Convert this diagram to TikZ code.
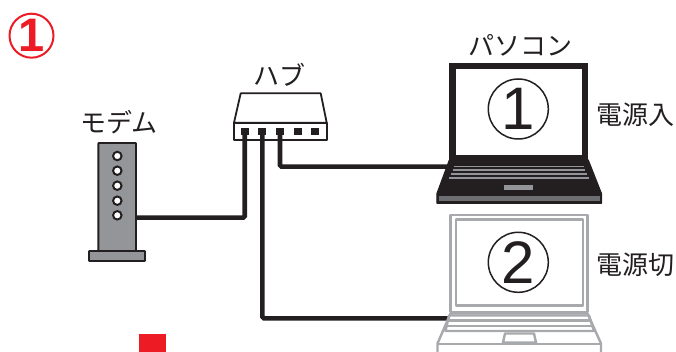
\documentclass[tikz,border=0pt]{standalone}
\usepackage{fontspec}
\setmainfont{Noto Sans CJK JP}
\newfontfamily\digitfont{Liberation Sans}
\definecolor{ink}{HTML}{231F20}
\definecolor{mid}{HTML}{939598}
\definecolor{pale}{HTML}{A7A9AC}
\definecolor{slabgray}{HTML}{6D6E71}
\definecolor{mark}{HTML}{ED1C24}
\begin{document}
\begin{tikzpicture}[
    x=1pt, y=-1pt,
    label/.style={inner sep=0pt, font=\fontsize{26}{26}\selectfont, text=ink},
    cable/.style={draw=ink, line width=4.6pt, rounded corners=1.5pt},
    edge/.style={draw=ink, line width=1.8pt, line join=round},
    body/.style={rectangle, edge, fill=mid, inner sep=0pt, rounded corners=0.5pt},
    led/.style={circle, draw=ink, line width=2pt, fill=white, minimum size=8.5pt, inner sep=0pt},
    port/.style={rectangle, fill=ink, minimum width=8pt, minimum height=7pt, inner sep=0pt},
    screen/.style={rectangle, fill=white, inner sep=0pt},
    ring/.style={circle, draw=ink, line width=1.5pt, minimum size=60pt, inner sep=0pt, font=\digitfont\fontsize{60}{60}\selectfont, text=ink},
    gline/.style={draw=pale, line width=2.4pt, line join=round},
    kline/.style={draw=mid, line width=1.3pt}
]
    \useasboundingbox (0,0) rectangle (676,352);

    \node[circle, draw=mark, line width=2pt, minimum size=44pt, inner sep=0pt, font=\digitfont\bfseries\fontsize{47}{47}\selectfont, text=mark] (badge) at (31.5,35.7) {1};
    \node[rectangle, fill=mark, minimum width=26.7pt, minimum height=18pt, inner sep=0pt] (redbox) at (152.6,343) {};

    \node[label] (modemtxt) at (119,122) {モデム};
    \node[label] (hubtxt)   at (279,75)  {ハブ};
    \node[label] (pc1txt)   at (520,45)  {パソコン};
    \node[label] (on)       at (635,114.5) {電源入};
    \node[label] (off)      at (635,265) {電源切};

    % modem
    \node[body, minimum width=37.7pt, minimum height=108pt] (modem) at (117.2,197) {};
    \node[body, minimum width=56pt, minimum height=10pt] (stand) at (117,256) {};
    \node[led] (led1) at (117.3,156)   {};
    \node[led] (led2) at (117.3,170.7) {};
    \node[led] (led3) at (117.3,185.7) {};
    \node[led] (led4) at (117.3,200.7) {};
    \node[led] (led5) at (117.3,215.3) {};
    \coordinate (modemout) at (136,217.7);

    % hub
    \draw[edge, fill=white] (240.7,93.3) -- (320.7,93.3) -- (326.7,122.7) -- (234,122.7) -- cycle;
    \node[rectangle, edge, fill=white, minimum width=92.7pt, minimum height=17.3pt, inner sep=0pt] (hub) at (280.3,131.3) {};
    \node[port] (p1) at (244.7,131.5) {};
    \node[port] (p2) at (262.3,131.5) {};
    \node[port] (p3) at (280,131.5)   {};
    \node[port] (p4) at (297.7,131.5) {};
    \node[port] (p5) at (315.3,131.5) {};

    \coordinate (pc1in) at (450,166.7);
    \coordinate (pc2in) at (450,318.3);
    \draw[cable] (p1.south) |- (modemout);
    \draw[cable] (p2.south) |- (pc2in);
    \draw[cable] (p3.south) |- (pc1in);

    % laptop on
    \draw[fill=ink, draw=ink, line width=1pt, line join=round] (449.3,160) -- (588.3,160) -- (601.5,193.5) -- (601.5,203.3) -- (436.9,203.3) -- (436.9,193.5) -- cycle;
    \node[rectangle, fill=ink, minimum width=139pt, minimum height=98pt, inner sep=0pt] (pc1) at (518.8,112.3) {};
    \node[screen, minimum width=126.3pt, minimum height=85.7pt] (scr1) at (519.2,112.2) {};
    \node[ring] (num1) at (518.3,109) {1};
    \draw[kline, line width=0.7pt] (454,166) -- (584,166);
    \draw[kline] (452.7,170) -- (585,170);
    \draw[kline] (450.5,174) -- (587,174);
    \draw[kline] (449,178) -- (589,178);
    \node[rectangle, fill=mid, minimum width=29pt, minimum height=5pt, inner sep=0pt] (pad1) at (518.8,187.5) {};
    \node[rectangle, fill=slabgray, minimum width=161pt, minimum height=4.6pt, inner sep=0pt] (slab1) at (519.2,198.4) {};

    % laptop off
    \draw[gline, fill=white] (450.5,313.5) -- (587.5,313.5) -- (601,343.5) -- (601,356) -- (437.5,356) -- (437.5,343.5) -- cycle;
    \node[rectangle, gline, fill=white, minimum width=137pt, minimum height=97pt, inner sep=0pt] (pc2) at (518.8,263.5) {};
    \node[rectangle, gline, fill=white, minimum width=127pt, minimum height=86pt, inner sep=0pt] (scr2) at (519.5,262.5) {};
    \node[ring] (num2) at (518.3,262.3) {2};
    \draw[gline] (449,315.5) -- (589,315.5) -- (594,331) -- (445.5,331) -- cycle;
    \draw[gline] (448,320.5) -- (590.5,320.5);
    \draw[gline] (446.5,326) -- (592,326);
    \draw[gline] (505,333.5) -- (534,333.5) -- (536,342.5) -- (503,342.5) -- cycle;
    \draw[gline] (437.5,344) -- (601,344);
\end{tikzpicture}
\end{document}
